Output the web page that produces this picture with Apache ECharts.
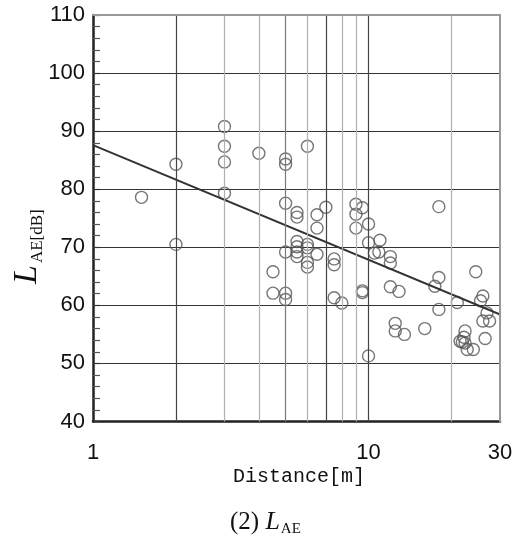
<!DOCTYPE html>
<html>
<head>
<meta charset="UTF-8">
<title>L_AE vs Distance</title>
<script src="https://cdn.jsdelivr.net/npm/echarts@6/dist/echarts.min.js"></script>
<style>
  html, body { margin: 0; padding: 0; background: #fff; }
  #main { width: 520px; height: 539px; }
</style>
</head>
<body>
<div id="main"></div>
<script>
// 測定点 (距離[m], LAE[dB])
var distance = [1.5, 2, 2, 3, 3, 3, 3, 4, 5, 5, 6, 5, 5.5, 5.5, 4.5, 4.5, 5, 5, 5,
  5.5, 5.5, 5.5, 5.5, 6, 6, 6, 6, 6.5, 7, 6.5, 6.5, 7.5, 7.5, 7.5, 8,
  9, 9.5, 9, 9, 10, 10, 10.5, 10.9, 11, 9.5, 9.5, 10,
  12, 12, 12, 12.9, 12.5, 12.5, 13.5, 16, 17.4, 18, 18, 18,
  21, 24.5, 26, 25.5, 26.9, 26, 27.5, 26.5, 22.4, 22.2, 21.5, 21.9, 22.4, 22.8, 24];
var lae = [78.6, 84.3, 70.5, 90.8, 87.4, 84.7, 79.3, 86.2, 85.2, 84.3, 87.4, 77.6, 76.0, 75.2, 65.8, 62.1, 62.1, 61.0, 69.2,
  71.0, 70.1, 69.2, 68.4, 70.5, 69.9, 67.4, 66.6, 75.6, 76.9, 73.3, 68.8, 68.0, 67.0, 61.3, 60.4,
  77.4, 76.8, 75.7, 73.3, 74.0, 70.8, 69.0, 69.2, 71.2, 62.5, 62.2, 51.3,
  68.4, 67.3, 63.2, 62.4, 56.9, 55.6, 55.0, 56.0, 63.3, 64.8, 59.3, 77.0,
  60.5, 65.8, 61.6, 60.8, 58.7, 57.3, 57.3, 54.3, 55.6, 54.5, 53.8, 53.7, 53.5, 52.4, 52.4];

// 回帰直線の両端
var fitX = [1, 31.6];
var fitY = [87.6, 58.0];

// 縦グリッド線
var gridDark = [2, 7, 10];
var gridMid = [5];
var gridLight = [3, 4, 6, 8, 9, 20];
var xTickLabels = [1, 10, 30];

var points = distance.map(function (d, i) { return [d, lae[i]]; });
var fitLine = fitX.map(function (d, i) { return [d, fitY[i]]; });

function vLines(list, color) {
  return list.map(function (v) {
    return { xAxis: v, lineStyle: { color: color, width: 1.2, type: 'solid' } };
  });
}

var chart = echarts.init(document.getElementById('main'));
chart.setOption({
  backgroundColor: '#fff',
  animation: false,
  grid: { left: 93, right: 20, top: 15, bottom: 117.5 },
  xAxis: [{
    type: 'log', logBase: 10, min: 1, max: 30,
    axisLine: { lineStyle: { color: '#222', width: 2.5 } },
    axisTick: { show: false },
    splitLine: { show: false },
    axisLabel: {
      color: '#111', fontSize: 22, fontFamily: 'Liberation Sans', margin: 20,
      showMaxLabel: true,
      formatter: function (v) {
        var r = Math.round(v);
        return xTickLabels.indexOf(r) >= 0 ? String(r) : '';
      }
    }
  }, {
    type: 'log', logBase: 10, min: 1, max: 30, position: 'top', z: 5,
    axisLine: { lineStyle: { color: '#999', width: 2 } },
    axisTick: { show: false }, axisLabel: { show: false }, splitLine: { show: false }
  }],
  yAxis: [{
    type: 'value', min: 40, max: 110, interval: 10,
    axisLine: { show: true, lineStyle: { color: '#222', width: 2.5 } },
    axisTick: { show: true, inside: true, length: 7, lineStyle: { color: '#333', width: 1.2 } },
    minorTick: { show: true, splitNumber: 5, length: 7, lineStyle: { color: '#555', width: 1.2 } },
    splitLine: { lineStyle: { color: '#333', width: 1.2 } },
    axisLabel: { color: '#111', fontSize: 22, fontFamily: 'Liberation Sans', margin: 8 }
  }, {
    type: 'value', min: 40, max: 110, position: 'right', z: 5,
    axisLine: { show: true, lineStyle: { color: '#999', width: 2 } },
    axisTick: { show: false }, axisLabel: { show: false }, splitLine: { show: false }
  }],
  series: [{
    type: 'line', data: [], silent: true, z: 1,
    markLine: {
      silent: true, symbol: 'none', label: { show: false },
      data: vLines(gridLight, '#b0b0b0').concat(vLines(gridMid, '#7a7a7a'), vLines(gridDark, '#444'))
    }
  }, {
    type: 'scatter', data: points, symbol: 'circle', symbolSize: 12, z: 3,
    itemStyle: { color: 'rgba(0,0,0,0)', borderColor: '#555', borderWidth: 1.4 }
  }, {
    type: 'line', data: fitLine, showSymbol: false, clip: false, z: 4,
    lineStyle: { color: '#333', width: 2 }
  }],
  graphic: [{
    type: 'text', left: 233, top: 467,
    style: { text: 'Distance[m]', font: '20px "Liberation Mono"', fill: '#111' }
  }, {
    type: 'text', left: 230, top: 509,
    style: {
      text: '{a|(2) }{b|L}{c|AE}',
      rich: {
        a: { font: '25px "Liberation Serif"', fill: '#111', verticalAlign: 'bottom' },
        b: { font: 'italic 26px "Liberation Serif"', fill: '#111', verticalAlign: 'bottom' },
        c: { font: '15px "Liberation Serif"', fill: '#111', verticalAlign: 'bottom', padding: [0, 0, -2, 1] }
      }
    }
  }, {
    type: 'text', x: 10, y: 284, rotation: Math.PI / 2,
    style: {
      text: '{b|L}{c|AE[dB]}',
      rich: {
        b: { font: 'italic 34px "Liberation Serif"', fill: '#111', verticalAlign: 'bottom' },
        c: { font: '17px "Liberation Serif"', fill: '#111', verticalAlign: 'bottom', padding: [0, 0, -2, 2] }
      }
    }
  }]
});
</script>
</body>
</html>
